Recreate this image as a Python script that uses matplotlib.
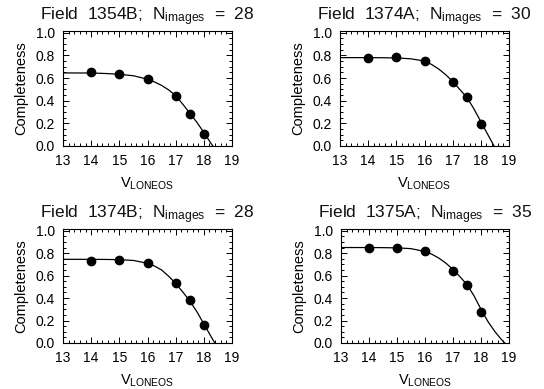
import matplotlib
matplotlib.use("Agg")
import matplotlib.pyplot as plt
from matplotlib.ticker import MultipleLocator

plt.rcParams['font.family'] = ['Liberation Sans', 'DejaVu Sans']
plt.rcParams['mathtext.fontset'] = 'custom'
plt.rcParams['mathtext.rm'] = 'Liberation Sans'
plt.rcParams['mathtext.it'] = 'Liberation Sans'

# ---- data ----
mag = [14, 15, 16, 17, 17.5, 18]

fields = ["1354B", "1374A", "1374B", "1375A"]
nimages = [28, 30, 28, 35]

comp_1354B = [0.65, 0.635, 0.59, 0.44, 0.285, 0.11]
comp_1374A = [0.775, 0.785, 0.75, 0.565, 0.435, 0.19]
comp_1374B = [0.73, 0.74, 0.71, 0.53, 0.38, 0.16]
comp_1375A = [0.845, 0.85, 0.815, 0.645, 0.52, 0.28]

# fitted curves
fit_v_1354B = [13, 14, 14.5, 15, 15.5, 16, 16.25, 16.5, 16.75, 17, 17.25, 17.5, 17.75, 18, 18.25, 18.32]
fit_c_1354B = [0.645, 0.644, 0.64, 0.633, 0.62, 0.59, 0.565, 0.535, 0.495, 0.445, 0.37, 0.29, 0.21, 0.12, 0.025, 0.0]

fit_v_1374A = [13, 14, 14.5, 15, 15.5, 16, 16.25, 16.5, 16.75, 17, 17.25, 17.5, 17.75, 18, 18.25, 18.47]
fit_c_1374A = [0.78, 0.78, 0.779, 0.777, 0.77, 0.75, 0.72, 0.68, 0.63, 0.57, 0.50, 0.43, 0.33, 0.215, 0.10, 0.0]

fit_v_1374B = [13, 14, 14.5, 15, 15.5, 16, 16.25, 16.5, 16.75, 17, 17.25, 17.5, 17.75, 18, 18.25, 18.39]
fit_c_1374B = [0.745, 0.745, 0.744, 0.742, 0.735, 0.71, 0.685, 0.65, 0.595, 0.53, 0.455, 0.375, 0.28, 0.17, 0.06, 0.0]

fit_v_1375A = [13, 14, 14.5, 15, 15.5, 16, 16.25, 16.5, 16.75, 17, 17.25, 17.5, 17.75, 18, 18.25, 18.5, 18.75, 18.85]
fit_c_1375A = [0.85, 0.85, 0.849, 0.847, 0.84, 0.815, 0.79, 0.755, 0.71, 0.655, 0.59, 0.52, 0.42, 0.30, 0.19, 0.10, 0.025, 0.0]

comps = [comp_1354B, comp_1374A, comp_1374B, comp_1375A]
fit_vs = [fit_v_1354B, fit_v_1374A, fit_v_1374B, fit_v_1375A]
fit_cs = [fit_c_1354B, fit_c_1374A, fit_c_1374B, fit_c_1375A]

xticks = [13, 14, 15, 16, 17, 18, 19]
yticks = [0.0, 0.2, 0.4, 0.6, 0.8, 1.0]

W, H = 544, 389
fig = plt.figure(figsize=(W / 100, H / 100), dpi=100)

# axes boxes in pixels: left, top, right, bottom
boxes = [(63, 31, 232, 146), (340, 31, 509, 146),
         (63, 229, 232, 343), (341, 229, 509, 343)]

for i, (l, t, r, b) in enumerate(boxes):
    ax = fig.add_axes([l / W, 1 - b / H, (r - l) / W, (b - t) / H])
    ax.plot(fit_vs[i], fit_cs[i], color='black', lw=0.9)
    ax.plot(mag, comps[i], 'o', color='black', ms=6)
    ax.set_xlim(13, 19)
    ax.set_ylim(0, 1.015)
    ax.set_xticks(xticks)
    ax.set_yticks(yticks)
    ax.set_xticklabels([str(v) for v in xticks])
    ax.set_yticklabels([f"{v:.1f}" for v in yticks])
    ax.xaxis.set_minor_locator(MultipleLocator(0.2))
    ax.yaxis.set_minor_locator(MultipleLocator(0.05))
    ax.tick_params(which='both', direction='in', top=True, right=True,
                   labelsize=10, width=0.7)
    ax.tick_params(which='major', length=4, pad=6)
    ax.tick_params(which='minor', length=2)
    for s in ax.spines.values():
        s.set_linewidth(0.8)
    ax.set_xlabel(r'V$_{\rm LONEOS}$', fontsize=10.5, labelpad=5)
    ax.set_ylabel('Completeness', fontsize=10.5, labelpad=5)
    ax.set_title(f"Field  {fields[i]};  N$_{{\\rm images}}$  =  {nimages[i]}",
                 fontsize=12.5, pad=8, color='#111111')

fig.savefig("out.png", dpi=100)
